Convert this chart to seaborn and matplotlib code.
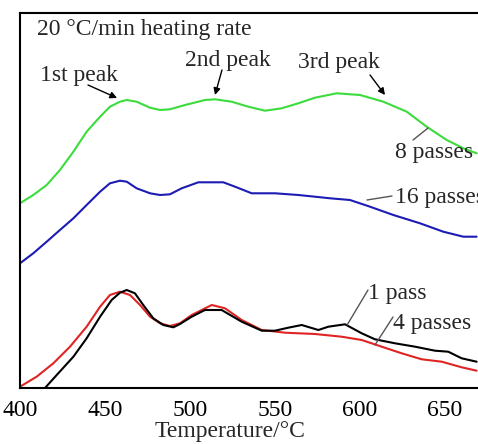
import numpy as np
import pandas as pd
import matplotlib
matplotlib.use("Agg")
import matplotlib.pyplot as plt
import seaborn as sns

# --- Data (heat flow in arbitrary units) ---
t_8 = [400.0, 407.8, 415.7, 423.5, 431.4, 439.2, 447.1, 452.9, 458.8, 462.8,
       468.6, 476.5, 482.4, 488.2, 497.1, 508.8, 514.7, 524.5, 534.3, 544.1,
       553.9, 563.7, 573.5, 586.3, 600.0, 613.7, 627.5, 639.2, 651.0, 660.8, 668.6]
y_8 = [184.7, 193.0, 203.0, 218.0, 236.3, 256.3, 271.3, 281.3, 286.3, 288.0,
       286.3, 280.3, 278.0, 278.7, 283.0, 288.0, 288.7, 286.3, 281.3, 277.3,
       279.7, 284.7, 290.3, 294.7, 293.0, 286.3, 276.3, 261.3, 248.0, 239.7, 234.7]

t_16 = [400.0, 407.8, 415.7, 423.5, 431.4, 439.2, 447.1, 452.9, 458.8, 462.8,
        468.6, 476.5, 482.4, 488.2, 495.1, 504.9, 519.6, 526.5, 536.3, 550.0,
        563.7, 573.5, 582.4, 594.1, 605.9, 619.6, 635.3, 649.0, 660.8, 668.6]
y_16 = [124.7, 134.7, 146.3, 158.0, 169.7, 183.0, 196.3, 204.7, 207.3, 206.3,
        199.7, 194.7, 193.0, 193.7, 199.7, 205.7, 205.7, 201.3, 194.7, 194.7,
        193.0, 191.3, 189.7, 188.0, 181.3, 173.0, 164.7, 156.3, 151.3, 151.3]

t_4 = [400.0, 409.8, 419.6, 429.4, 439.2, 447.1, 452.9, 458.8, 464.7, 470.6,
       476.5, 482.4, 488.2, 494.1, 501.0, 512.8, 520.6, 530.4, 542.2, 555.9,
       573.5, 589.2, 601.0, 612.8, 624.5, 636.3, 648.1, 659.8, 668.6]
y_4 = [1.3, 11.3, 24.7, 41.3, 61.3, 81.3, 93.0, 96.3, 93.0, 83.0,
       71.3, 64.7, 62.0, 64.7, 73.0, 83.0, 79.7, 68.0, 58.0, 55.3,
       54.0, 51.3, 48.0, 41.3, 34.7, 28.7, 26.3, 20.7, 17.3]

t_1 = [414.7, 421.6, 431.4, 439.2, 447.1, 453.9, 458.8, 462.8, 467.6, 472.5,
       478.4, 484.3, 490.2, 494.1, 501.0, 508.8, 518.6, 530.4, 542.2, 550.0,
       557.8, 565.7, 575.5, 581.4, 591.2, 601.0, 608.8, 620.6, 632.4, 644.1,
       651.9, 659.8, 668.6]
y_1 = [0.0, 13.0, 31.3, 49.7, 71.3, 88.0, 95.3, 98.0, 94.7, 83.0,
       69.7, 63.0, 60.7, 64.0, 71.3, 78.0, 78.0, 66.3, 57.3, 57.3,
       60.3, 63.0, 58.0, 61.3, 63.7, 54.7, 48.7, 44.7, 41.3, 37.3,
       36.3, 29.7, 26.3]

x_ticks = [400, 450, 500, 550, 600, 650]

# --- Style ---
sns.set_style("white")
plt.rcParams['font.family'] = ['Liberation Serif', 'DejaVu Serif']
fs = 17

fig = plt.figure(figsize=(4.78, 4.44), dpi=100)
ax = fig.add_axes([20 / 478, 1 - 388 / 444, 1 - 20 / 478, (388 - 13) / 444])

curves = [
    (t_8, y_8, '#3cdc3c'),
    (t_16, y_16, '#1c1cb4'),
    (t_4, y_4, '#e02424'),
    (t_1, y_1, 'black'),
]
for t, y, c in curves:
    sns.lineplot(x=t, y=y, ax=ax, color=c, linewidth=1.5, sort=False)

ax.set_xlim(400, 669.4)
ax.set_ylim(0, 375)
ax.set_xticks(x_ticks)
ax.set_yticks([])
ax.tick_params(axis='x', direction='in', length=6.5, width=1.2, pad=9,
               labelsize=fs, colors='black')
for side in ['left', 'top', 'bottom']:
    ax.spines[side].set_visible(True)
    ax.spines[side].set_color('black')
    ax.spines[side].set_linewidth(1.5)
ax.spines['right'].set_visible(False)

ax.set_xlabel('Temperature/°C', fontsize=fs)
ax.xaxis.set_label_coords(0.4585, -0.088)
ax.set_ylabel('')

# --- Annotations ---
ax.text(410, 358, '20 °C/min heating rate', fontsize=fs, va='center', ha='left')

arrow = dict(arrowstyle='-|>', color='black', lw=1.0, mutation_scale=10,
             shrinkA=0, shrinkB=0)
ax.text(411.8, 312, '1st peak', fontsize=fs, va='center', ha='left')
ax.annotate('', xy=(457.1, 290), xytext=(440.0, 303), arrowprops=arrow)
ax.text(497.1, 327, '2nd peak', fontsize=fs, va='center', ha='left')
ax.annotate('', xy=(514.7, 293), xytext=(518.8, 318), arrowprops=arrow)
ax.text(563.5, 325, '3rd peak', fontsize=fs, va='center', ha='left')
ax.annotate('', xy=(614.7, 293), xytext=(605.9, 313), arrowprops=arrow)

lead = dict(color='#555555', lw=1.0)
ax.text(620.6, 235, '8 passes', fontsize=fs, va='center', ha='left')
ax.plot([640.0, 631.2], [260, 248], **lead)
ax.text(620.6, 191, '16 passes', fontsize=fs, va='center', ha='left')
ax.plot([604.1, 618.8], [188, 192], **lead)
ax.text(604.7, 95, '1 pass', fontsize=fs, va='center', ha='left')
ax.plot([592.4, 604.7], [63, 98], **lead)
ax.text(619.4, 65, '4 passes', fontsize=fs, va='center', ha='left')
ax.plot([608.8, 619.4], [43, 71], **lead)

fig.savefig('out.png', dpi=100)
